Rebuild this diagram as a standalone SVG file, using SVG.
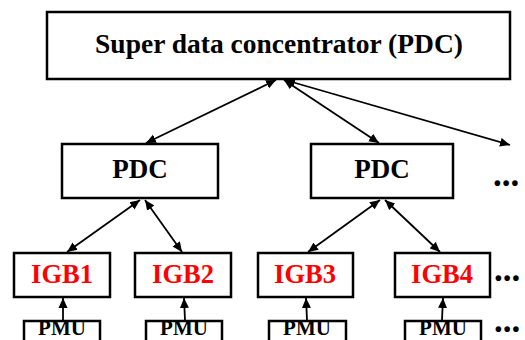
<svg xmlns="http://www.w3.org/2000/svg" width="525" height="340" viewBox="0 0 525 340">
<style>
.box{fill:#fff;stroke:#000;stroke-width:2.5}
.t{font-family:'Liberation Serif','DejaVu Serif',serif;font-weight:700;text-anchor:middle}
.blk{fill:#000}
.red{fill:#ff0000}
.dots{font-family:'Liberation Serif','DejaVu Serif',serif;font-weight:700;font-size:35px;fill:#000}
.c{fill:none;stroke:#000;stroke-width:1.8}
</style>
<defs>
<marker id="ah" viewBox="0 0 10 10" refX="10" refY="5" markerWidth="10" markerHeight="10" markerUnits="userSpaceOnUse" orient="auto-start-reverse">
<path d="M0,0.5 L10,5 L0,9.5 Z" fill="#000"/>
</marker>
</defs>
<rect width="525" height="340" fill="#fff"/>
<g id="connectors">
<line class="c" x1="276" y1="80" x2="146" y2="143" marker-start="url(#ah)" marker-end="url(#ah)"/>
<line class="c" x1="284" y1="80" x2="379" y2="143" marker-start="url(#ah)" marker-end="url(#ah)"/>
<line class="c" x1="285" y1="80" x2="510" y2="145" marker-start="url(#ah)" marker-end="url(#ah)"/>
<line class="c" x1="140" y1="200" x2="67" y2="252" marker-start="url(#ah)" marker-end="url(#ah)"/>
<line class="c" x1="145" y1="200" x2="182" y2="252" marker-start="url(#ah)" marker-end="url(#ah)"/>
<line class="c" x1="380" y1="200" x2="308" y2="252" marker-start="url(#ah)" marker-end="url(#ah)"/>
<line class="c" x1="385" y1="200" x2="440" y2="252" marker-start="url(#ah)" marker-end="url(#ah)"/>
<line class="c" x1="63" y1="320" x2="63" y2="298" marker-end="url(#ah)"/>
<line class="c" x1="185" y1="320" x2="184" y2="298" marker-end="url(#ah)"/>
<line class="c" x1="307" y1="320" x2="306" y2="298" marker-end="url(#ah)"/>
<line class="c" x1="442" y1="320" x2="443" y2="298" marker-end="url(#ah)"/>
</g>
<g id="super">
<rect class="box" x="47" y="12" width="463" height="67"/>
<text class="t blk" x="279" y="53" font-size="27.5">Super data concentrator (PDC)</text>
</g>
<g id="pdc1">
<rect class="box" x="62" y="144" width="156" height="54"/>
<text class="t blk" x="140" y="178" font-size="27">PDC</text>
</g>
<g id="pdc2">
<rect class="box" x="311" y="144" width="142" height="54"/>
<text class="t blk" x="382" y="178" font-size="27">PDC</text>
</g>
<g id="igb1">
<rect class="box" x="14" y="253" width="96" height="44"/>
<text class="t red" x="62" y="283" font-size="26.5">IGB1</text>
</g>
<g id="igb2">
<rect class="box" x="135" y="253" width="96" height="44"/>
<text class="t red" x="183" y="283" font-size="26.5">IGB2</text>
</g>
<g id="igb3">
<rect class="box" x="258" y="253" width="95" height="44"/>
<text class="t red" x="305" y="283" font-size="26.5">IGB3</text>
</g>
<g id="igb4">
<rect class="box" x="395" y="253" width="95" height="44"/>
<text class="t red" x="442" y="283" font-size="26.5">IGB4</text>
</g>
<g id="pmu1">
<rect class="box" x="24" y="321" width="76" height="30"/>
<text class="t blk" x="62" y="335" font-size="21">PMU</text>
</g>
<g id="pmu2">
<rect class="box" x="146" y="321" width="76" height="30"/>
<text class="t blk" x="184" y="335" font-size="21">PMU</text>
</g>
<g id="pmu3">
<rect class="box" x="269" y="321" width="77" height="30"/>
<text class="t blk" x="307" y="335" font-size="21">PMU</text>
</g>
<g id="pmu4">
<rect class="box" x="405" y="321" width="76" height="30"/>
<text class="t blk" x="443" y="335" font-size="21">PMU</text>
</g>
<g id="ellipses">
<text class="dots" x="493" y="186">...</text>
<text class="dots" x="494" y="281">...</text>
<text class="dots" x="494" y="332">...</text>
</g>
</svg>
